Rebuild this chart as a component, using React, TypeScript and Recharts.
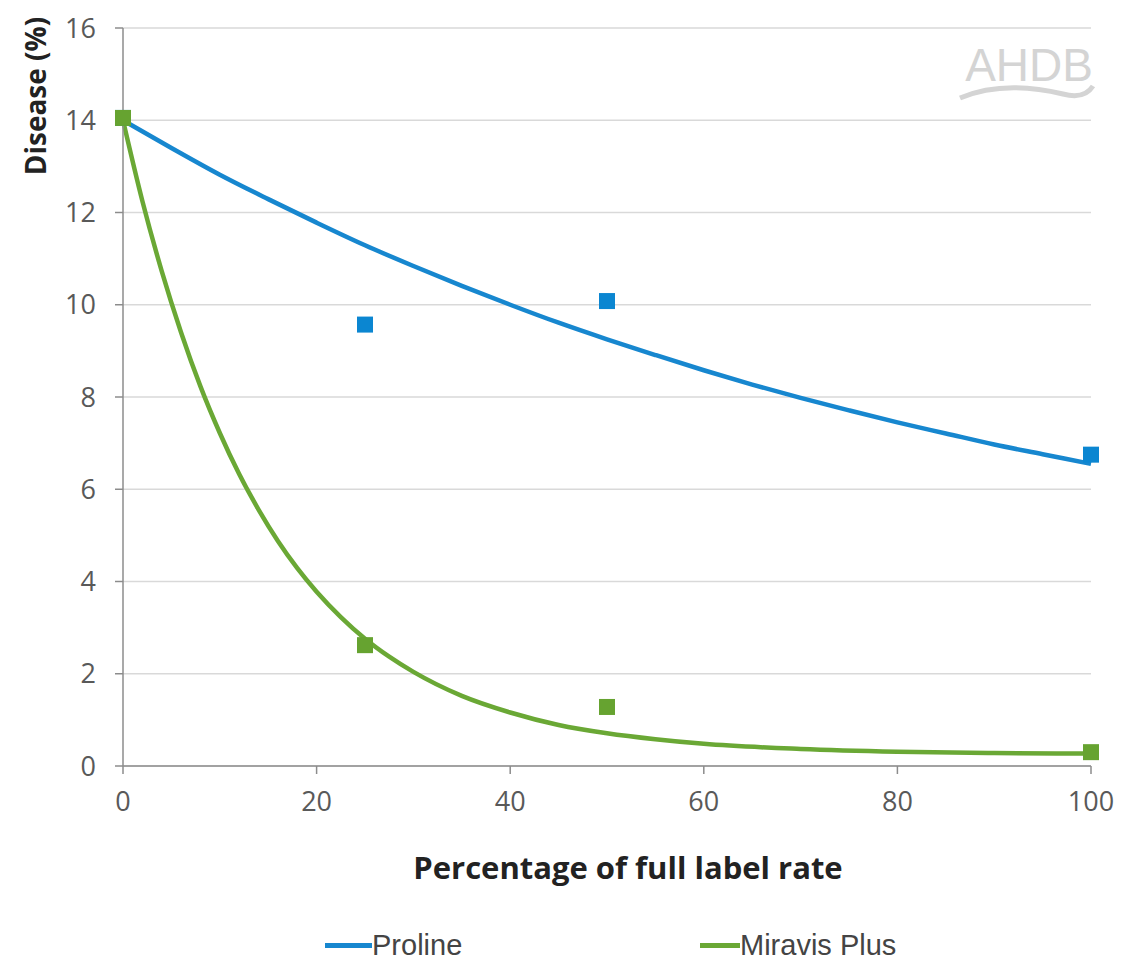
import {
  ComposedChart, Line, Scatter, XAxis, YAxis, CartesianGrid,
} from "recharts";

// fitted curves
const prolineCurveX = [0, 5, 10, 15, 20, 25, 30, 35, 40, 45, 50, 55, 60, 65, 70, 75, 80, 85, 90, 95, 100];
const prolineCurveY = [14, 13.4, 12.82, 12.29, 11.78, 11.29, 10.84, 10.41, 10.0, 9.61, 9.25, 8.91, 8.58, 8.27, 7.98, 7.71, 7.45, 7.21, 6.97, 6.76, 6.55];

const miravisCurveX = [0, 2, 4, 6, 8, 10, 12, 14, 16, 18, 20, 22.5, 25, 27.5, 30, 35, 40, 45, 50, 55, 60, 70, 80, 90, 100];
const miravisCurveY = [14, 12.25, 10.73, 9.4, 8.23, 7.22, 6.33, 5.56, 4.88, 4.29, 3.78, 3.23, 2.76, 2.37, 2.04, 1.52, 1.16, 0.89, 0.71, 0.58, 0.48, 0.37, 0.31, 0.28, 0.27];

// observed points
const rates = [0, 25, 50, 100];
const prolinePoints = [14.05, 9.57, 10.08, 6.75];
const miravisPoints = [14.05, 2.62, 1.28, 0.3];

const xTicks = [0, 20, 40, 60, 80, 100];
const yTicks = [0, 2, 4, 6, 8, 10, 12, 14, 16];

const BLUE = "#1787cf";
const GREEN = "#6aa835";

const zip = (xs: number[], ys: number[]) => xs.map((x, i) => ({ x, y: ys[i] }));

const prolineCurve = zip(prolineCurveX, prolineCurveY);
const miravisCurve = zip(miravisCurveX, miravisCurveY);
const prolineObs = zip(rates, prolinePoints);
const miravisObs = zip(rates, miravisPoints);

const tickStyle = { fontSize: 27, fill: "#595959", fontFamily: "Open Sans" };

const square = (color: string) => (props: any) => (
  <rect x={props.cx - 8} y={props.cy - 8} width={16} height={16} fill={color} />
);

const legendItem = { position: "absolute" as const, top: 919, display: "flex", alignItems: "center", fontSize: 29, color: "#444", fontFamily: "Liberation Sans", lineHeight: "36px" };

export default function App() {
  return (
    <div style={{ position: "relative", width: 1139, height: 953 }}>
      <ComposedChart
        width={1139}
        height={953}
        margin={{ top: 20, right: 56, left: 55, bottom: 165 }}
      >
        <CartesianGrid vertical={false} stroke="#d9d9d9" strokeWidth={1.5} />
        <XAxis
          type="number"
          dataKey="x"
          domain={[0, 100]}
          ticks={xTicks}
          tick={tickStyle}
          tickSize={8}
          tickMargin={18}
          height={30}
          stroke="#8c8c8c"
          strokeWidth={1.5}
        />
        <YAxis
          type="number"
          dataKey="y"
          domain={[0, 16]}
          ticks={yTicks}
          tick={tickStyle}
          tickSize={8}
          tickMargin={19}
          width={60}
          stroke="#8c8c8c"
          strokeWidth={1.5}
        />
        <Line data={prolineCurve} dataKey="y" type="monotone" stroke={BLUE} strokeWidth={4.5} dot={false} isAnimationActive={false} />
        <Line data={miravisCurve} dataKey="y" type="monotone" stroke={GREEN} strokeWidth={4.5} dot={false} isAnimationActive={false} />
        <Scatter data={prolineObs} dataKey="y" shape={square("#0b86d1")} isAnimationActive={false} />
        <Scatter data={miravisObs} dataKey="y" shape={square("#66a330")} isAnimationActive={false} />

        <text
          x={27} y={88} transform="rotate(-90 27 88)"
          textAnchor="middle" dominantBaseline="central"
          fontSize={28} fontWeight={700} fill="#222" fontFamily="Open Sans"
        >
          Disease (%)
        </text>
        <text
          x={620} y={859} textAnchor="middle" dominantBaseline="central"
          fontSize={31} fontWeight={700} fill="#222" fontFamily="Open Sans"
        >
          Percentage of full label rate
        </text>
        {/* AHDB watermark */}
        <text x={1085} y={73} textAnchor="end" fontSize={46} fill="#d4d4d4" fontFamily="Liberation Sans">
          AHDB
        </text>
        <path d="M 952 90 C 990 74, 1030 80, 1055 86 C 1070 90, 1080 86, 1085 78" stroke="#d4d4d4" strokeWidth={5} fill="none" />
      </ComposedChart>

      <div style={{ ...legendItem, left: 317 }}>
        <span style={{ width: 47, height: 5, background: BLUE, display: "inline-block" }} />
        <span>Proline</span>
      </div>
      <div style={{ ...legendItem, left: 692 }}>
        <span style={{ width: 40, height: 5, background: GREEN, display: "inline-block" }} />
        <span>Miravis Plus</span>
      </div>
    </div>
  );
}
